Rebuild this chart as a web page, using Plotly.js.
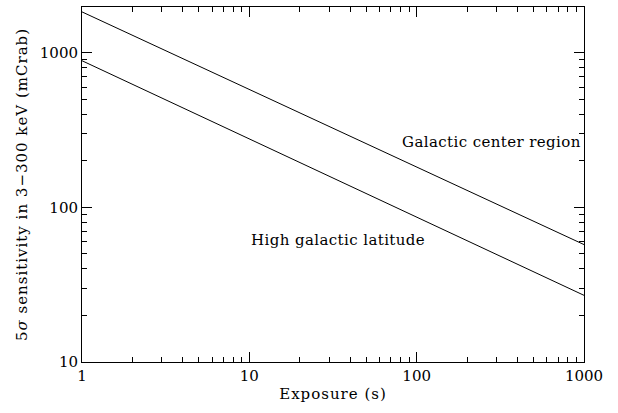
<!DOCTYPE html>
<html><head><meta charset="utf-8">
<script src="https://cdn.plot.ly/plotly-3.0.1.min.js"></script>
<style>
html,body{margin:0;padding:0;background:#fff;}
.annotation-text{letter-spacing:0.4px;}
.xtitle,.ytitle{letter-spacing:1px;}
</style>
</head><body>
<div id="chart" style="width:618px;height:413px;"></div>
<script>
const exposure = [1, 1000];
const galacticCenter = [1842, 57.5];
const highLatitude = [890, 27];
const labels = ["Galactic center region", "High galactic latitude"];
const labelX = [80, 10];
const labelY = [267, 62];
const minorX = [2,3,4,5,6,7,8,9,20,30,40,50,60,70,80,90,200,300,400,500,600,700,800,900];
const minorY = [20,30,40,50,60,70,80,90,200,300,400,500,600,700,800,900];

const font = {family: "'DejaVu Serif'", size: 15, color: "#000"};
const line = {color: "#000", width: 1};

const traces = [
  {x: exposure, y: galacticCenter, mode: "lines", line: line, name: labels[0]},
  {x: exposure, y: highLatitude, mode: "lines", line: line, name: labels[1]}
];

const axisCommon = {
  type: "log", showgrid: false, zeroline: false, showline: true, mirror: "allticks",
  linecolor: "#000", linewidth: 1, ticks: "inside", ticklen: 10, tickcolor: "#000",
  tickfont: font
};

const layout = {
  width: 618, height: 413,
  margin: {l: 82, r: 34, t: 7, b: 51},
  paper_bgcolor: "#fff", plot_bgcolor: "#fff",
  showlegend: false,
  font: font,
  xaxis: Object.assign({}, axisCommon, {
    range: [0, 3], tickvals: [1, 10, 100, 1000], ticktext: ["1", "10", "100", "1000"],
    minor: {tickvals: minorX, ticks: "inside", ticklen: 5, tickcolor: "#000", showgrid: false},
    title: {text: "Exposure (s)", font: font, standoff: 4}
  }),
  yaxis: Object.assign({}, axisCommon, {
    range: [1, 3.297], tickvals: [10, 100, 1000], ticktext: ["10", "100", "1000"],
    minor: {tickvals: minorY, ticks: "inside", ticklen: 5, tickcolor: "#000", showgrid: false},
    title: {text: "5<i>σ</i> sensitivity in 3−300 keV (mCrab)", font: font, standoff: 8}
  }),
  annotations: labels.map((t, i) => ({
    x: Math.log10(labelX[i]), y: Math.log10(labelY[i]), xref: "x", yref: "y",
    text: t, showarrow: false, xanchor: "left", yanchor: "middle", font: font
  }))
};

Plotly.newPlot("chart", traces, layout, {displayModeBar: false, staticPlot: true});
</script>
</body></html>
